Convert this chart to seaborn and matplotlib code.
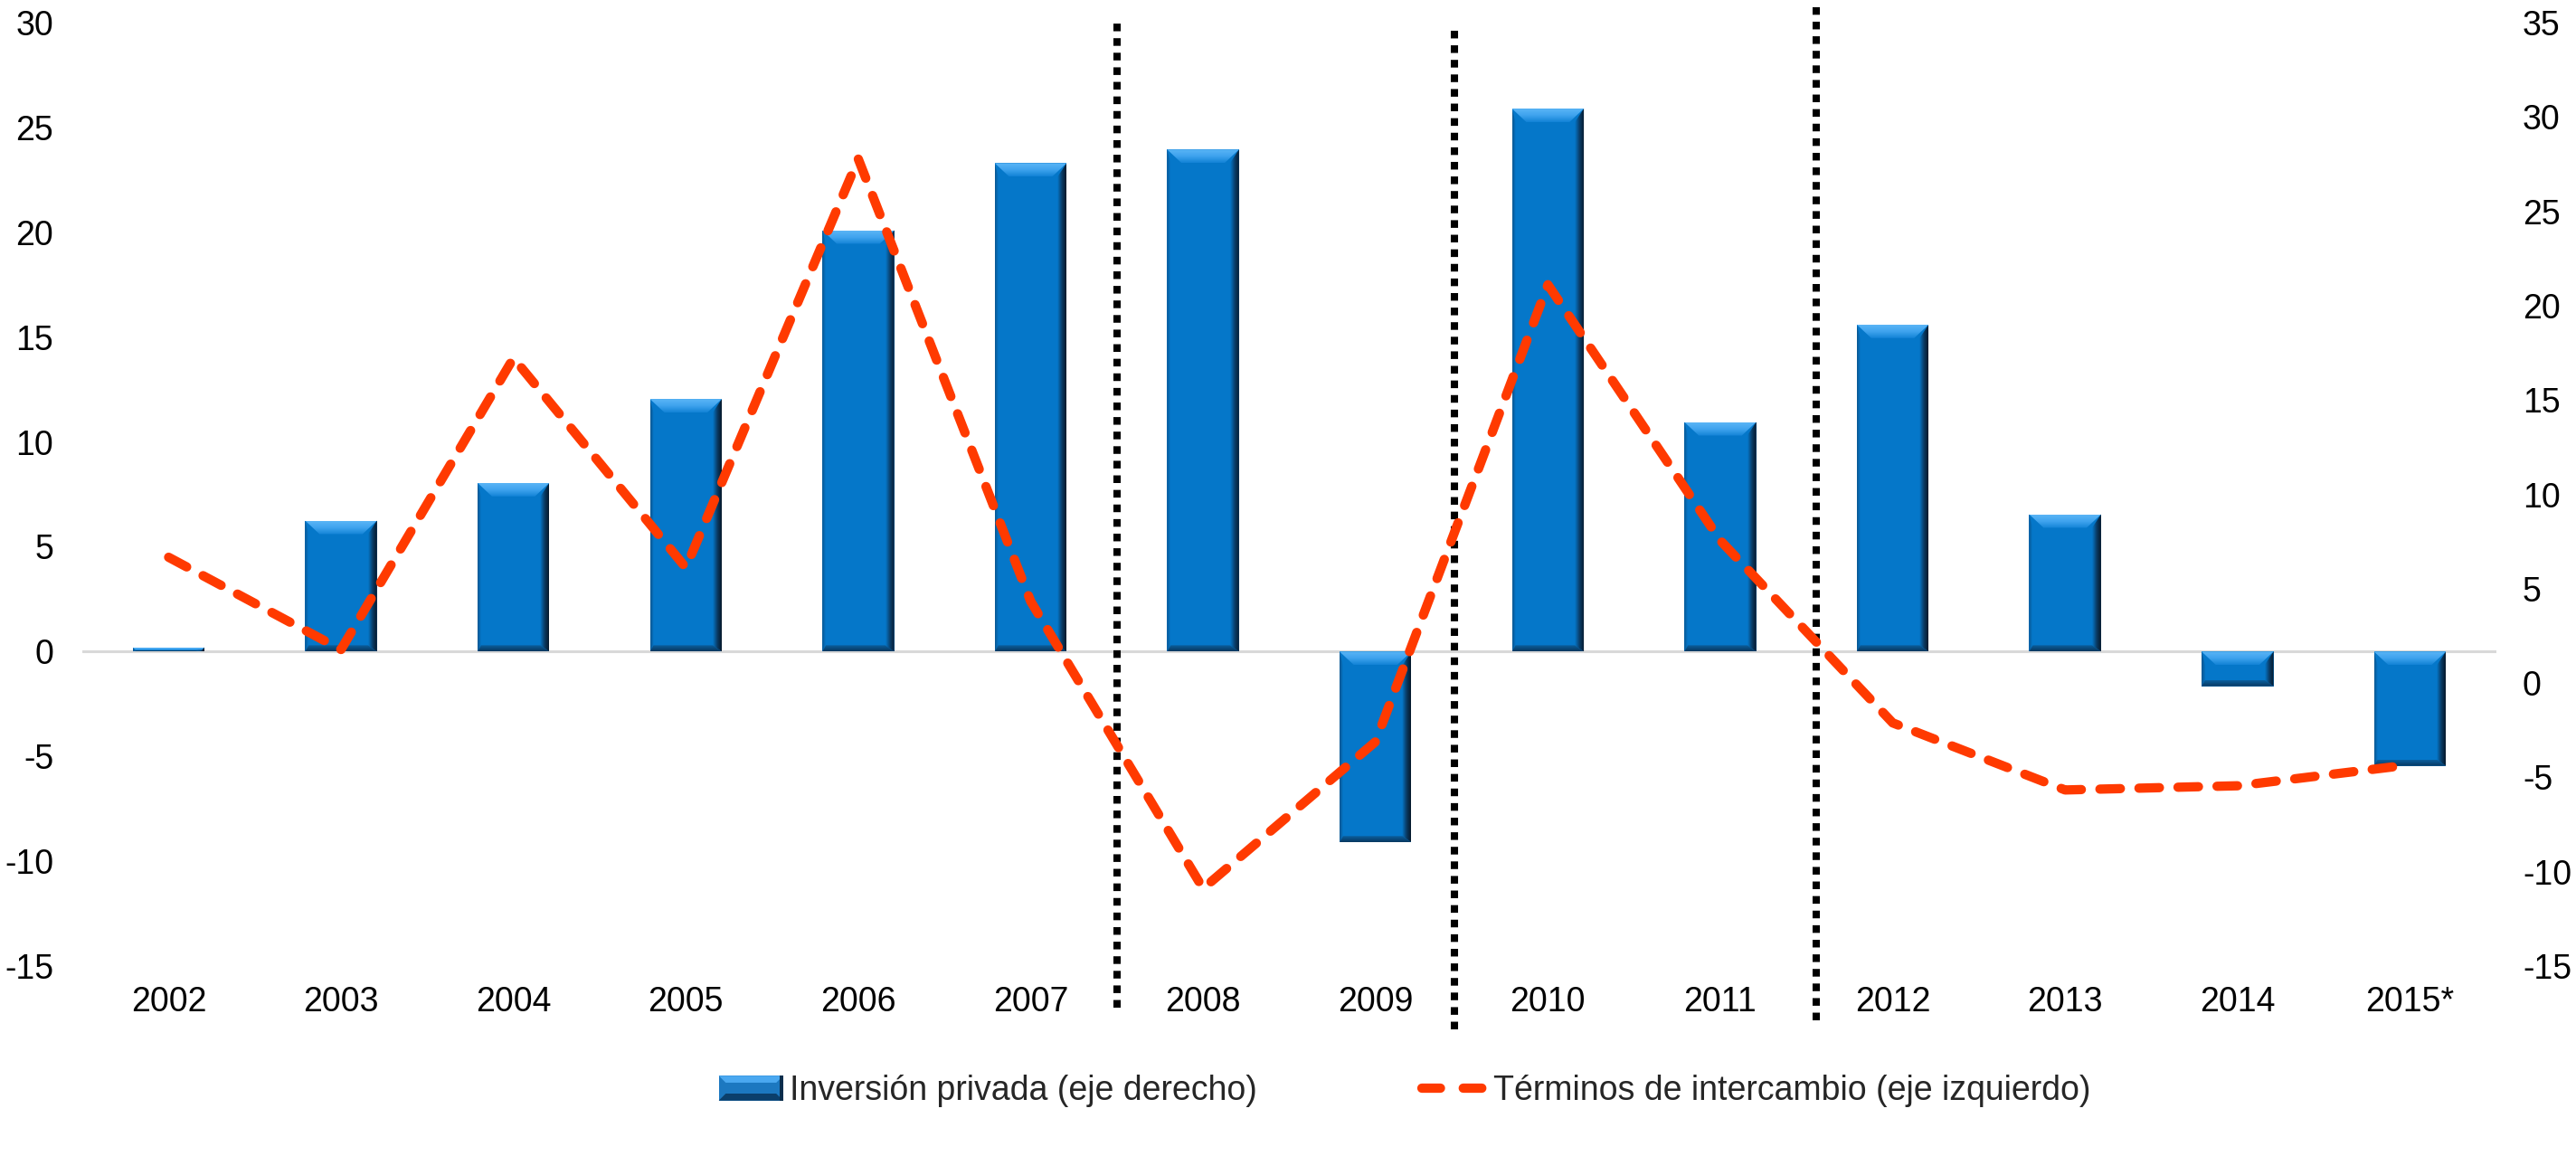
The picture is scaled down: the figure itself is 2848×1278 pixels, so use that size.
import numpy as np
import pandas as pd
import matplotlib
matplotlib.use("Agg")
import matplotlib.pyplot as plt
import seaborn as sns
from matplotlib.patches import Polygon, Rectangle
from matplotlib.colors import LinearSegmentedColormap
from matplotlib.lines import Line2D
from matplotlib.legend_handler import HandlerBase

# ---- data -------------------------------------------------------------
years = ["2002", "2003", "2004", "2005", "2006", "2007", "2008",
         "2009", "2010", "2011", "2012", "2013", "2014", "2015*"]
inversion_privada = [0.2, 6.25, 8.05, 12.05, 20.1, 23.3, 23.95,
                     -9.1, 25.9, 10.95, 15.6, 6.55, -1.65, -5.45]
terminos_intercambio = [4.5, 0.1, 14.0, 4.0, 23.5, 2.4, -11.3,
                        -4.3, 17.5, 5.3, -3.4, -6.6, -6.4, -5.4]
left_ticks = [-15, -10, -5, 0, 5, 10, 15, 20, 25, 30]
right_ticks = [-15, -10, -5, 0, 5, 10, 15, 20, 25, 30, 35]
# period separators (position between categories, top and bottom in left-axis units)
break_x = [5.5, 7.46, 9.556]
break_top = [30.0, 29.9, 30.75]
break_bottom = [-17.0, -18.0, -17.6]

label_bar = "Inversión privada (eje derecho)"
label_line = "Términos de intercambio (eje izquierdo)"

BAR = "#0577C9"
RED = "#FF3A00"
FS = 27
LINE_W = 7.4

sns.set_theme(style="white")
plt.rcParams["font.family"] = ["Liberation Sans", "DejaVu Sans"]
plt.rcParams["axes.unicode_minus"] = False

fig = plt.figure(figsize=(28.48, 12.78), dpi=100)
ax = fig.add_axes([0.032, 0.1643, 0.937, 0.8161])

pos = np.arange(len(years))
df = pd.DataFrame({"pos": pos, "inv": inversion_privada})
sns.barplot(data=df, x="pos", y="inv", native_scale=True, color=BAR,
            saturation=1, width=0.417, linewidth=0, ax=ax, zorder=2)
bars = list(ax.patches)

ax.axhline(0, color="#D9D9D9", lw=2.2, zorder=1)

sns.lineplot(x=pos, y=terminos_intercambio, ax=ax, color=RED, lw=LINE_W,
             zorder=6, sort=False)
tot_line = ax.lines[-1]
tot_line.set_dashes((2.2, 2.0))
tot_line.set_dash_capstyle("round")
tot_line.set_solid_capstyle("round")

for bx, bt, bb in zip(break_x, break_top, break_bottom):
    ln, = ax.plot([bx, bx], [bb, bt], color="black", lw=5.8,
                  clip_on=False, zorder=5)
    ln.set_dashes((1.05, 0.95))
    ln.set_dash_capstyle("butt")

ax.set_xlim(-0.5, len(years) - 0.5)
ax.set_ylim(-15, 30)

# ---- bevel shading on each bar ----------------------------------------
fig_w_px = fig.get_figwidth() * fig.dpi
fig_h_px = fig.get_figheight() * fig.dpi
bb_ax = ax.get_position()
ppx = bb_ax.width * fig_w_px / len(years)
ppy = bb_ax.height * fig_h_px / 45.0


def grad_fill(poly_pts, extent, colors, vertical, z):
    cmap = LinearSegmentedColormap.from_list("g", colors)
    g = np.linspace(0, 1, 64)
    img = g.reshape(-1, 1) if vertical else g.reshape(1, -1)
    im = ax.imshow(img, extent=extent, origin="lower", aspect="auto",
                   cmap=cmap, interpolation="bilinear", zorder=z)
    clip = Polygon(poly_pts, closed=True, transform=ax.transData)
    im.set_clip_path(clip)


for r in bars:
    x0 = r.get_x()
    x1 = x0 + r.get_width()
    lo = min(r.get_y(), r.get_y() + r.get_height())
    hi = max(r.get_y(), r.get_y() + r.get_height())
    h_px = (hi - lo) * ppy
    k = min(1.0, h_px / 24.0)
    dyt = 15 * k / ppy
    dxt = 16 * k / ppx
    dyb = 7 * k / ppy
    dxr = 10 / ppx
    dxl = 4 / ppx
    # right face
    grad_fill([(x1, hi), (x1, lo), (x1 - dxr, lo + dyb), (x1 - dxr, hi - dyt)],
              [x1 - dxr, x1, lo, hi], [BAR, "#0A3C66", "#06182A"], False, 3)
    # left face
    grad_fill([(x0, hi), (x0, lo), (x0 + dxl, lo + dyb), (x0 + dxl, hi - dyt)],
              [x0, x0 + dxl, lo, hi], ["#0A5690", BAR], False, 3)
    # bottom face
    grad_fill([(x0, lo), (x1, lo), (x1 - dxr, lo + dyb), (x0 + dxl, lo + dyb)],
              [x0, x1, lo, lo + dyb], ["#08385F", "#0B5F9E"], True, 3.1)
    # top face
    grad_fill([(x0, hi), (x1, hi), (x1 - dxt, hi - dyt), (x0 + dxt, hi - dyt)],
              [x0, x1, hi - dyt, hi], ["#1283D6", "#3FA3EE", "#5AB5F6"], True, 3.2)

ax.set_xlim(-0.5, len(years) - 0.5)
ax.set_ylim(-15, 30)
ax.set_xticks(pos, years)
ax.set_yticks(left_ticks)
ax.set_xlabel("")
ax.set_ylabel("")
ax.grid(False)
ax.tick_params(axis="x", length=0, labelsize=FS, pad=16, colors="black")
ax.tick_params(axis="y", length=0, labelsize=FS, pad=23, colors="black")
for s in ax.spines.values():
    s.set_visible(False)

ax2 = ax.twinx()
ax2.set_ylim(-15, 35)
ax2.set_yticks(right_ticks)
ax2.grid(False)
ax2.tick_params(axis="y", length=0, labelsize=FS, pad=21, colors="black")
for s in ax2.spines.values():
    s.set_visible(False)


# ---- legend -------------------------------------------------------------
class BevelHandler(HandlerBase):
    def create_artists(self, legend, orig_handle, xdescent, ydescent,
                       width, height, fontsize, trans):
        x0, y0 = -xdescent, -ydescent
        d = height * 0.28
        arts = [Rectangle((x0, y0), width, height, facecolor="#1C78C0",
                          edgecolor="none", transform=trans)]
        arts.append(Polygon([(x0, y0 + height), (x0 + width, y0 + height),
                             (x0 + width - d, y0 + height - d),
                             (x0 + d, y0 + height - d)],
                            facecolor="#4AA8F0", edgecolor="none", transform=trans))
        arts.append(Polygon([(x0, y0), (x0 + width, y0),
                             (x0 + width - d, y0 + d), (x0 + d, y0 + d)],
                            facecolor="#0B3F6B", edgecolor="none", transform=trans))
        arts.append(Rectangle((x0 + width - d * 0.5, y0), d * 0.5, height,
                              facecolor="#0A2E4D", edgecolor="none", transform=trans))
        return arts


bar_handle = Rectangle((0, 0), 1, 1, facecolor=BAR)
line_handle = Line2D([], [], color=RED, lw=LINE_W)
line_handle.set_dashes((2.0, 2.45))
line_handle.set_dash_capstyle("round")

fig.legend([bar_handle, line_handle], [label_bar, label_line],
           handler_map={Rectangle: BevelHandler()},
           loc="center", bbox_to_anchor=(0.5453, 0.0563), ncol=2,
           frameon=False, fontsize=FS, handlelength=1.9, handleheight=0.75,
           handletextpad=0.2, columnspacing=4.85, borderpad=0)

fig.savefig("out.png", dpi=100)
